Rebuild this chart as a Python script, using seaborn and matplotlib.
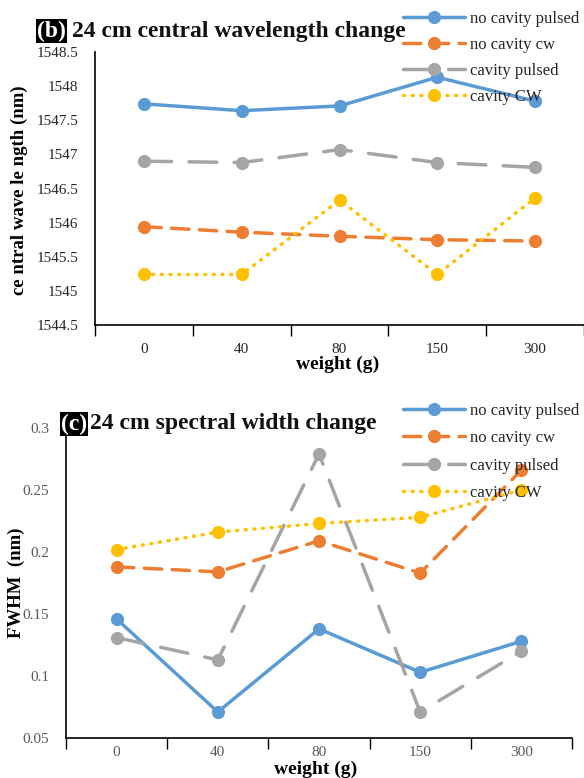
import matplotlib
matplotlib.use("Agg")
import matplotlib.pyplot as plt
import seaborn as sns
import pandas as pd
import numpy as np
from matplotlib.ticker import FixedLocator, FuncFormatter

sns.set_theme(style="white")
plt.rcParams['font.family'] = ['Liberation Serif', 'DejaVu Serif']

weights = ["0", "40", "80", "150", "300"]
series_names = ["no cavity pulsed", "no cavity cw", "cavity pulsed", "cavity CW"]

# panel (b): central wavelength (nm)
wl_no_cavity_pulsed = [1547.74, 1547.64, 1547.71, 1548.13, 1547.78]
wl_no_cavity_cw = [1545.94, 1545.86, 1545.80, 1545.75, 1545.73]
wl_cavity_pulsed = [1546.90, 1546.88, 1547.07, 1546.88, 1546.81]
wl_cavity_cw = [1545.24, 1545.24, 1546.33, 1545.24, 1546.36]

# panel (c): FWHM (nm)
fw_no_cavity_pulsed = [0.146, 0.071, 0.138, 0.103, 0.128]
fw_no_cavity_cw = [0.188, 0.184, 0.209, 0.183, 0.266]
fw_cavity_pulsed = [0.131, 0.113, 0.279, 0.071, 0.120]
fw_cavity_cw = [0.202, 0.216, 0.223, 0.228, 0.250]

colors = {"no cavity pulsed": "#5B9BD5", "no cavity cw": "#ED7D31",
          "cavity pulsed": "#A5A5A5", "cavity CW": "#FFC000"}
dashes = {"no cavity pulsed": "", "no cavity cw": (5, 3),
          "cavity pulsed": (8, 5), "cavity CW": (0.3, 2.2)}


def make_df(vals):
    rows = []
    for name, v in zip(series_names, vals):
        for i, (w, y) in enumerate(zip(weights, v)):
            rows.append({"pos": i, "weight": w, "series": name, "value": y})
    return pd.DataFrame(rows)


fig = plt.figure(figsize=(5.84, 7.78), dpi=100)
W, H = 584, 778


def axes_px(l, t, r, b):
    return fig.add_axes([l / W, 1 - b / H, (r - l) / W, (b - t) / H])


def draw(ax, vals, ylim, ystep, tickcolor, xpad):
    df = make_df(vals)
    sns.lineplot(data=df, x="pos", y="value", hue="series", style="series",
                 hue_order=series_names, style_order=series_names,
                 palette=colors, dashes=dashes,
                 markers={n: "o" for n in series_names},
                 linewidth=2.5, markersize=9.5, markeredgewidth=0,
                 ax=ax, legend=False, sort=False)
    for ln in ax.lines:
        ln.set_dash_capstyle("round")
        ln.set_solid_capstyle("round")
    ax.set_xlim(-0.5, 4.5)
    ax.set_ylim(*ylim)
    ax.set_xticks(range(5))
    ax.set_xticklabels(weights)
    ax.xaxis.set_minor_locator(FixedLocator(np.arange(-0.5, 5, 1)))
    ax.tick_params(axis="x", which="major", length=0, pad=xpad, labelsize=11,
                   labelcolor=tickcolor)
    ax.tick_params(axis="x", which="minor", length=8, width=1, color="black",
                   direction="out", bottom=True)
    yt = np.arange(ylim[0], ylim[1] + ystep / 2, ystep)
    ax.set_yticks(yt)
    ax.yaxis.set_major_formatter(FuncFormatter(lambda v, p: "%g" % round(v, 4)))
    ax.tick_params(axis="y", length=0, pad=12, labelsize=11, labelcolor=tickcolor)
    for s in ["top", "right"]:
        ax.spines[s].set_visible(False)
    for s in ["left", "bottom"]:
        ax.spines[s].set_color("black")
        ax.spines[s].set_linewidth(1.2)
    ax.set_xlabel("")
    ax.set_ylabel("")
    ax.grid(False)
    ax.patch.set_alpha(0)
    return ax


ax1 = axes_px(95, 52, 584, 325)
draw(ax1, [wl_no_cavity_pulsed, wl_no_cavity_cw, wl_cavity_pulsed, wl_cavity_cw],
     (1544.5, 1548.5), 0.5, "#262626", 13)
ax2 = axes_px(66, 428, 572, 738)
draw(ax2, [fw_no_cavity_pulsed, fw_no_cavity_cw, fw_cavity_pulsed, fw_cavity_cw],
     (0.05, 0.3), 0.05, "#595959", 6)

# legends
for ax, top, sp in [(ax1, 11, 0.6), (ax2, 403, 0.68)]:
    handles = ax.lines[:4]
    fig.legend(handles, series_names, loc="upper left",
               bbox_to_anchor=(403 / W, 1 - top / H), frameon=False,
               fontsize=12, handlelength=3.7, handletextpad=0.3,
               labelspacing=sp, borderaxespad=0, borderpad=0)

# titles
fig.text(37 / W, 1 - 31 / H, "(b)", fontsize=17, fontweight="bold", color="white",
         va="center", ha="left",
         bbox=dict(facecolor="black", edgecolor="none", pad=0.6))
fig.text(72 / W, 1 - 31 / H, "24 cm central wavelength change", fontsize=17,
         fontweight="bold", color="#111111", va="center", ha="left")
fig.text(61 / W, 1 - 424 / H, "(c)", fontsize=17, fontweight="bold", color="white",
         va="center", ha="left",
         bbox=dict(facecolor="black", edgecolor="none", pad=0.6))
fig.text(90 / W, 1 - 424 / H, "24 cm spectral width change", fontsize=17,
         fontweight="bold", color="#111111", va="center", ha="left")

# axis labels
fig.text(19 / W, 1 - 190 / H, "ce ntral wave le ngth (nm)", rotation=90,
         fontsize=13.5, fontweight="bold", va="center", ha="center", color="black")
fig.text(338 / W, 1 - 364 / H, "weight (g)", fontsize=14, fontweight="bold",
         va="center", ha="center", color="black")
fig.text(16 / W, 1 - 583 / H, "FWHM  (nm)", rotation=90,
         fontsize=13.5, fontweight="bold", va="center", ha="center", color="black")
fig.text(316 / W, 1 - 769 / H, "weight (g)", fontsize=14, fontweight="bold",
         va="center", ha="center", color="black")

fig.savefig("out.png", dpi=100, facecolor="white")
